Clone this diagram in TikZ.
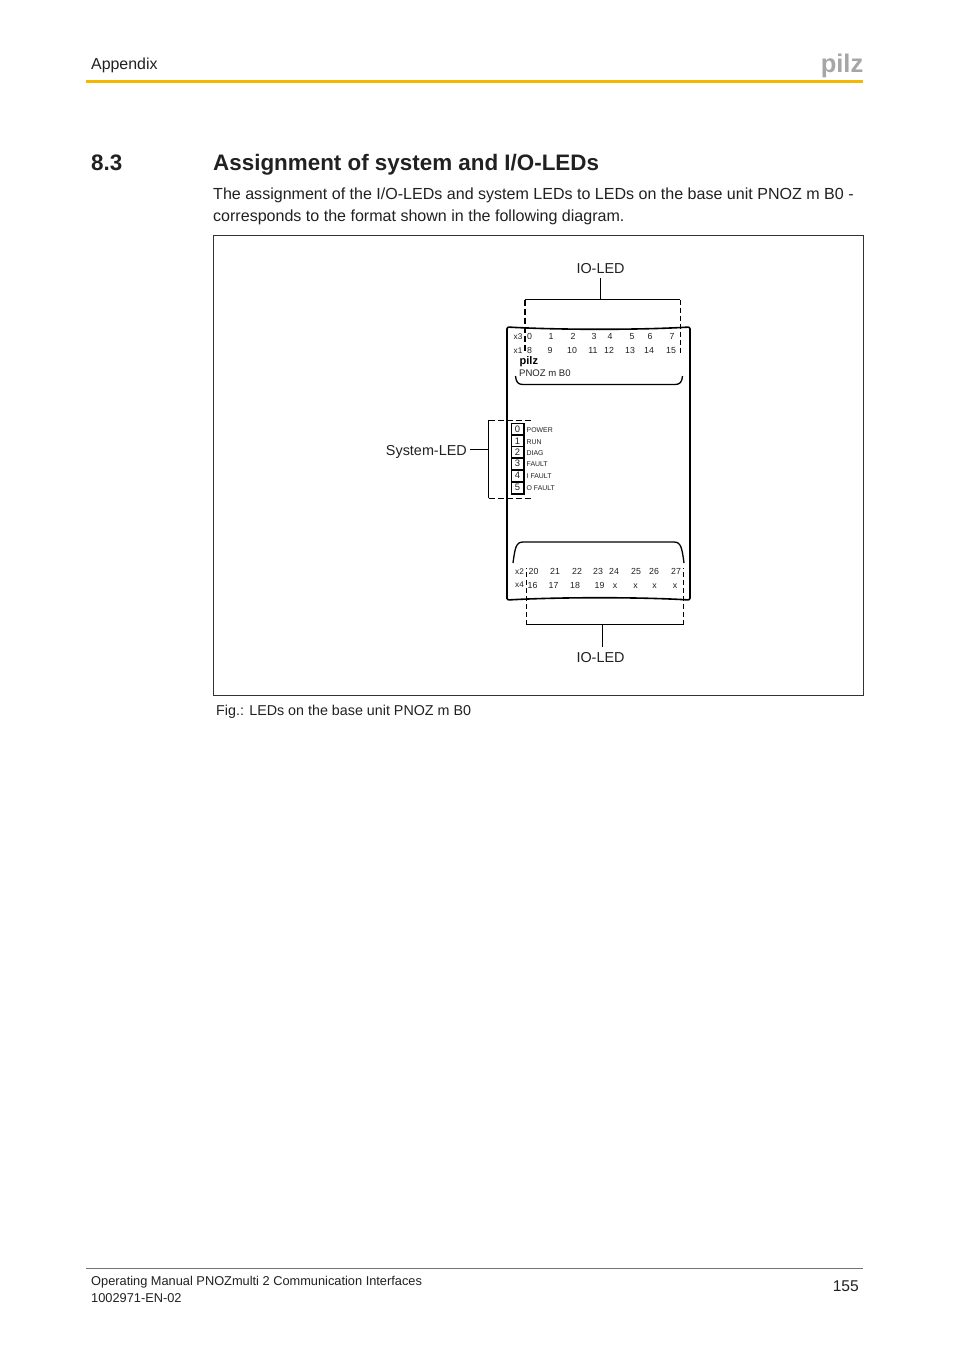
\documentclass[tikz,border=0pt]{standalone}
\usepackage{fontspec}
\setmainfont{Liberation Sans}
\usepackage{tikz}
\usetikzlibrary{positioning}
\definecolor{mgold}{rgb}{0.96, 0.72, 0}
\definecolor{mgrey}{rgb}{0.65, 0.65, 0.65}
\definecolor{mtext}{rgb}{0.13, 0.13, 0.13}
\newcommand{\fs}[1]{\fontsize{#1}{#1}\selectfont}
\tikzset{page text/.style = {anchor=base west, inner sep=0, text=mtext, font=\fs{15.9}},
         led num/.style = {anchor=base, inner sep=0, text=mtext, font=\fs{8.8}},
         led name/.style = {anchor=base west, inner sep=0, text=mtext, font=\fs{6.9}},
         port name/.style = {anchor=base, inner sep=0, text=mtext, font=\fs{8.2}},
         call out/.style = {anchor=base, inner sep=0, text=mtext, font=\fs{14.4}},
         outline/.style = {line width=1.6pt, black, rounded corners=2pt},
         bracket/.style = {line width=0.8pt, black},
         dash part/.style = {line width=0.9pt, black, dash pattern=on 5pt off 3pt},
         dash thick/.style = {line width=1.1pt, black, dash pattern=on 6pt off 3pt}}

\begin{document}
\begin{tikzpicture}[x=1pt, y=-1pt]
    \useasboundingbox [fill=white] (0, 0) rectangle (954, 1350);

    % header
    \node [page text] (head) at (91, 69) {Appendix};
    \node [anchor=base east, inner sep=0, text=mgrey, font=\bfseries\fs{25.5}] (logo) at (863.5, 72) {pilz};
    \draw [mgold, line width=3pt] (86, 81) -- (863, 81);

    % section
    \node [anchor=base west, inner sep=0, text=mtext, font=\bfseries\fs{22.4}] (secnum) at (91, 170) {8.3};
    \node [anchor=base west, inner sep=0, text=mtext, font=\bfseries\fs{22.4}] (sectitle) at (213, 170) {Assignment of system and I/O-LEDs};
    \node [page text, font=\fs{16.05}] (line1) at (213, 199) {The assignment of the I/O-LEDs and system LEDs to LEDs on the base unit PNOZ m B0 -};
    \node [page text, font=\fs{16.05}] (line2) at (213, 221) {corresponds to the format shown in the following diagram.};

    \draw [line width=0.7pt, black!80] (213, 235.5) rectangle (863.5, 695.5);
    \node [page text, font=\fs{14.3}] (caption) at (216, 715) {Fig.: LEDs on the base unit PNOZ m B0};

    % housing
    \draw [outline] (507, 600) -- (507, 327) .. controls (560, 330) and (640, 330) .. (690, 327) -- (690, 600)
        .. controls (640, 597) and (560, 597) .. (507, 600) -- cycle;
    \draw [line width=1.3pt, black] (515.5, 376) .. controls (516, 382) and (518, 384.5) .. (523, 384.5) -- (675, 384.5)
        .. controls (680, 384.5) and (682, 382) .. (682.5, 376);
    \draw [line width=1.3pt, black] (513, 563) .. controls (515, 548) and (516, 542) .. (523, 542) -- (674, 542)
        .. controls (681, 542) and (682, 548) .. (684, 563);

    % upper LEDs
    \node [port name] (x3) at (518, 339.5) {x3};
    \node [port name] (x1) at (518, 353) {x1};
    \foreach \name/\xpos in {0/529.5, 1/551, 2/573, 3/594, 4/610, 5/632, 6/650, 7/672}
      \node [led num] (top\name) at (\xpos, 339) {\name};
    \foreach \name/\xpos in {8/529.5, 9/550, 10/572, 11/593, 12/609, 13/630, 14/649, 15/671}
      \node [led num] (top\name) at (\xpos, 353) {\name};
    \node [anchor=base west, inner sep=0, font=\bfseries\fs{11}, text=black] (minilogo) at (519.5, 364) {pilz};
    \node [anchor=base west, inner sep=0, text=mtext, font=\fs{9.55}] (device) at (519, 376) {PNOZ m B0};

    % lower LEDs
    \node [port name] (x2) at (519.5, 574) {x2};
    \node [port name] (x4) at (519.5, 587) {x4};
    \foreach \name/\xpos in {20/533.5, 21/555, 22/577, 23/598, 24/614, 25/636, 26/654, 27/676}
      \node [led num] (bot\name) at (\xpos, 574) {\name};
    \foreach \name/\xpos in {16/532.5, 17/553.5, 18/575, 19/599.5}
      \node [led num] (bot\name) at (\xpos, 588) {\name};
    \foreach \name/\xpos in {a/615, b/635.5, c/654.5, d/675}
      \node [led num] (bot\name) at (\xpos, 588) {x};

    % system LEDs
    \foreach \num/\ypos/\label in {0/432/POWER, 1/444/RUN, 2/455/DIAG, 3/466.5/FAULT, 4/478.5/I FAULT, 5/490/O FAULT} {
      \node [led num, font=\fs{9.4}] (sys\num) at (517.5, \ypos) {\num};
      \node [led name] (sysname\num) at (526.5, \ypos) {\label};
    }
    \draw [line width=1.3pt, black] (511.5, 423.5) rectangle (524, 494);
    \foreach \ypos in {435, 446.5, 458, 470, 482}
      \draw [line width=1.1pt, black] (511.5, \ypos) -- (524, \ypos);

    % callouts
    \node [call out] (iotop) at (600.5, 273) {IO-LED};
    \node [call out] (iobot) at (600.5, 662) {IO-LED};
    \node [anchor=base east, inner sep=0, text=mtext, font=\fs{14.4}] (syslabel) at (467, 455) {System-LED};

    \coordinate (topL) at (525, 299.5);
    \coordinate (topR) at (680, 299.5);
    \coordinate (topM) at (600.5, 299.5);
    \coordinate (topS) at (600.5, 278);
    \draw [bracket] (topS) -- (topM);
    \draw [bracket] (topL) -- (topR);
    \draw [dash thick] (topL) -- ++(0, 53);
    \draw [dash part] (topR) -- ++(0, 55);

    \coordinate (botL) at (526.5, 624.5);
    \coordinate (botR) at (683.5, 624.5);
    \coordinate (botM) at (602.5, 624.5);
    \coordinate (botS) at (602.5, 647);
    \draw [bracket] (botS) -- (botM);
    \draw [bracket] (botL) -- (botR);
    \draw [dash part] (botL) -- ++(0, -57);
    \draw [dash part] (botR) -- ++(0, -57);

    \coordinate (sysT) at (488.5, 420);
    \coordinate (sysB) at (488.5, 498);
    \coordinate (sysM) at (488.5, 449.5);
    \coordinate (sysS) at (470, 449.5);
    \draw [bracket] (sysS) -- (sysM);
    \draw [bracket] (sysT) -- (sysB);
    \draw [dash thick, line width=0.9pt] (sysT) -- ++(43, 0);
    \draw [dash thick, line width=0.9pt] (sysB) -- ++(43, 0);

    % footer
    \draw [line width=0.5pt, black!55] (86, 1268) -- (863, 1268);
    \node [page text, font=\fs{12.8}] (foot1) at (91, 1285) {Operating Manual PNOZmulti 2 Communication Interfaces};
    \node [page text, font=\fs{12.8}] (foot2) at (91, 1302) {1002971-EN-02};
    \node [anchor=base east, inner sep=0, text=mtext, font=\fs{15.6}] (pagenum) at (859, 1291) {155};
  \end{tikzpicture}
\end{document}
